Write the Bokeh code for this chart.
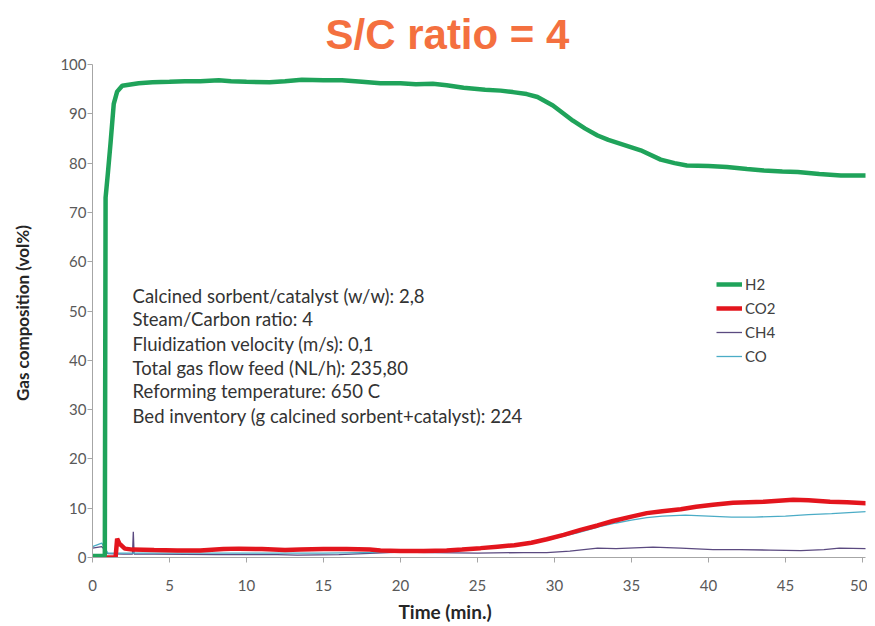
from bokeh.plotting import figure
from bokeh.models import Range1d, Label, Legend, LegendItem, Title, FixedTicker
from bokeh.embed import file_html
from bokeh.resources import INLINE

# ---- data ----
h2_t = [0.0, 0.8, 0.85, 1.0, 1.17, 1.38, 1.6, 1.93, 3.0, 3.9, 5.0, 6.0, 7.0, 8.2, 9.0, 10.0, 11.5,
        12.5, 13.6, 15.0, 16.2, 17.5, 18.7, 20.0, 21.0, 22.1, 23.0, 24.1, 25.5, 26.5, 27.3, 28.2,
        28.9, 29.9, 31.2, 32.0, 32.8, 33.5, 34.3, 35.6, 36.9, 37.8, 38.6, 40.0, 41.2, 42.5, 43.6,
        44.8, 45.8, 47.2, 48.6, 50.3]
h2_v = [0.3, 0.3, 73.0, 78.0, 84.0, 92.0, 94.5, 95.7, 96.2, 96.4, 96.5, 96.6, 96.6, 96.8, 96.6, 96.5, 96.4,
        96.6, 96.9, 96.8, 96.8, 96.5, 96.2, 96.2, 96.0, 96.1, 95.8, 95.3, 94.9, 94.7, 94.4, 94.0,
        93.4, 91.7, 88.6, 87.0, 85.6, 84.7, 83.9, 82.6, 80.7, 80.0, 79.5, 79.4, 79.2, 78.8, 78.5,
        78.3, 78.2, 77.8, 77.5, 77.5]

co2_t = [0.0, 1.5, 1.6, 1.75, 2.1, 2.6, 4.0, 5.5, 7.0, 8.5, 9.5, 11.0, 12.5, 13.5, 15.0, 16.5, 18.0,
         18.7, 20.0, 21.5, 23.0, 24.0, 25.2, 26.3, 27.4, 28.5, 29.5, 30.6, 31.7, 32.8, 33.8, 35.0,
         36.0, 37.0, 38.2, 39.2, 40.3, 41.6, 43.6, 45.5, 46.5, 47.9, 49.0, 50.3]
co2_v = [0.0, 0.0, 3.8, 2.8, 1.8, 1.6, 1.5, 1.4, 1.4, 1.7, 1.8, 1.7, 1.5, 1.6, 1.7, 1.7, 1.6,
         1.4, 1.3, 1.3, 1.4, 1.6, 1.9, 2.2, 2.5, 3.0, 3.7, 4.6, 5.6, 6.5, 7.4, 8.3,
         9.0, 9.4, 9.8, 10.3, 10.7, 11.1, 11.3, 11.7, 11.6, 11.3, 11.2, 11.0]

ch4_t = [0.0, 0.6, 1.0, 2.0, 2.6, 2.65, 2.7, 4.0, 8.0, 12.0, 13.3, 16.0, 20.0, 22.0, 25.0, 28.0,
         29.5, 31.0, 32.8, 34.0, 36.4, 38.2, 40.3, 42.0, 44.0, 46.0, 47.5, 48.5, 50.3]
ch4_v = [1.9, 2.2, 0.8, 0.7, 0.7, 5.2, 0.7, 0.7, 0.6, 0.6, 0.5, 0.6, 1.1, 1.0, 0.9, 1.0,
         1.0, 1.3, 1.9, 1.8, 2.1, 1.9, 1.6, 1.6, 1.5, 1.4, 1.6, 1.9, 1.8]

co_t = [0.0, 0.6, 1.0, 2.0, 5.0, 10.0, 15.0, 20.0, 22.0, 24.0, 25.5, 27.0, 28.5, 30.0, 31.5,
        33.0, 34.0, 35.0, 36.0, 37.0, 38.5, 40.0, 41.5, 43.0, 45.0, 46.5, 48.0, 50.3]
co_v = [2.2, 2.9, 0.9, 0.9, 0.9, 0.9, 0.9, 1.1, 1.3, 1.5, 1.8, 2.3, 3.0, 3.9, 5.0,
        6.3, 7.0, 7.6, 8.1, 8.4, 8.6, 8.4, 8.2, 8.2, 8.4, 8.7, 8.9, 9.3]

x_ticks = [0, 5, 10, 15, 20, 25, 30, 35, 40, 45, 50]
y_ticks = [0, 10, 20, 30, 40, 50, 60, 70, 80, 90, 100]

notes = ["Calcined sorbent/catalyst (w/w): 2,8",
         "Steam/Carbon ratio: 4",
         "Fluidization velocity (m/s): 0,1",
         "Total gas flow feed (NL/h): 235,80",
         "Reforming temperature:  650 C",
         "Bed inventory (g calcined sorbent+catalyst):  224"]
note_y = [53.1, 48.3, 43.4, 38.5, 33.7, 28.8]

FONT = "Lato"
GRAY = "#595959"

p = figure(width=867, height=626, output_backend="svg", toolbar_location=None,
           x_range=Range1d(0, 50.2), y_range=Range1d(0, 100),
           min_border_left=92, min_border_right=2, min_border_top=64, min_border_bottom=69)
p.outline_line_color = None
p.xgrid.visible = False
p.ygrid.visible = False
p.background_fill_color = "white"

p.title = Title(text="S/C ratio = 4", align="left", offset=233, text_font_size="42px",
                text_font="Liberation Sans", text_font_style="bold",
                text_color="#F4703F", standoff=14)

for ax in (p.xaxis[0], p.yaxis[0]):
    ax.axis_line_color = "#a6a6a6"
    ax.major_tick_line_color = "#a6a6a6"
    ax.minor_tick_line_color = None
    ax.major_tick_in = 0
    ax.major_tick_out = 5
    ax.major_label_text_font = FONT
    ax.major_label_text_font_size = "15px"
    ax.major_label_text_color = GRAY

p.xaxis.ticker = FixedTicker(ticks=x_ticks)
p.yaxis.ticker = FixedTicker(ticks=y_ticks)
p.xaxis.major_label_standoff = 17
p.yaxis.major_label_standoff = 1

p.yaxis.axis_label = "Gas composition  (vol%)"
p.yaxis.axis_label_text_font = FONT
p.yaxis.axis_label_text_font_size = "17px"
p.yaxis.axis_label_text_font_style = "bold"
p.yaxis.axis_label_text_color = "#262626"
p.yaxis.axis_label_standoff = 24

# x-axis title, left of centre as in the source
p.add_layout(Title(text="Time (min.)", align="left", offset=306, text_font=FONT,
                   text_font_size="19px", text_font_style="bold", text_color="#262626",
                   standoff=8), "below")

r_ch4 = p.line(ch4_t, ch4_v, line_color="#5B4A80", line_width=1.3)
r_co = p.line(co_t, co_v, line_color="#4BACC6", line_width=1.3)
r_co2 = p.line(co2_t, co2_v, line_color="#E3151D", line_width=4.5)
r_h2 = p.line(h2_t, h2_v, line_color="#1FA35A", line_width=4.5)

for txt, yy in zip(notes, note_y):
    p.add_layout(Label(x=2.6, y=yy, text=txt, text_font=FONT, text_font_size="18.5px",
                       text_color="#333333", text_baseline="middle"))

legend = Legend(items=[LegendItem(label="H2", renderers=[r_h2]),
                       LegendItem(label="CO2", renderers=[r_co2]),
                       LegendItem(label="CH4", renderers=[r_ch4]),
                       LegendItem(label="CO", renderers=[r_co])],
                location=(624, 189), padding=0, margin=0, spacing=0,
                glyph_width=26, glyph_height=24, label_height=24, label_standoff=3,
                label_text_font=FONT, label_text_font_size="15px", label_text_color="#404040",
                background_fill_alpha=0, border_line_color=None)
p.add_layout(legend, "center")

open("out.html", "w").write(file_html(p, INLINE))
